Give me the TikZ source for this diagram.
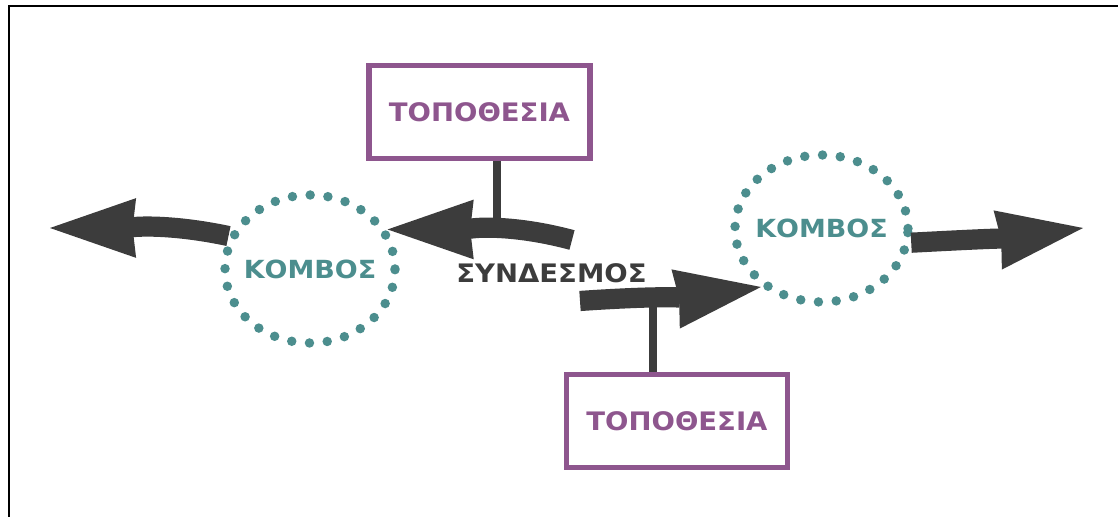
\documentclass[tikz,border=0pt]{standalone}
\usepackage{fontspec}
\setmainfont{DejaVu Sans}[FakeStretch=1.08]
\usepackage{tikz}
\usetikzlibrary{shapes.geometric,arrows.meta}
\definecolor{placepurple}{RGB}{142, 86, 142}
\definecolor{knotteal}{RGB}{76, 142, 142}
\definecolor{linkgray}{RGB}{60, 60, 60}

\tikzset{
  place/.style={draw=placepurple, line width=3.4pt, minimum width=4.42cm, minimum height=1.86cm,
    text=placepurple, font=\bfseries\fontsize{14.5}{16}\selectfont},
  knottext/.style={text=knotteal, font=\bfseries\fontsize{14.2}{16}\selectfont},
  knot/.style={ellipse, draw=knotteal, line width=5.4pt, line cap=round, dash pattern=on 0pt off 10.15pt,
    inner sep=0pt, label={[knottext]center:#1}},
  linkarrow/.style={draw=linkgray, line width=11.5pt,
    -{Stealth[length=49pt, width=34pt, inset=2pt, line width=0pt]}},
  stem/.style={draw=linkgray, line width=4.5pt},
}

\begin{document}
\begin{tikzpicture}
\useasboundingbox (0,0) rectangle (22.36,10.34);
% frame
\draw[line width=1.4pt] (0.18,0) -- (0.18,10.22) -- (22.36,10.22);

% knots
\node[knot=ΚΟΜΒΟΣ, minimum width=3.40cm, minimum height=2.96cm] (kl) at (6.20,4.96) {};
\node[knot=ΚΟΜΒΟΣ, minimum width=3.46cm, minimum height=2.94cm] (kr) at (16.43,5.77) {};

% places
\node[place] (loctop) at (9.59,8.10) {ΤΟΠΟΘΕΣΙΑ};
\node[place] (locbot) at (13.54,1.92) {ΤΟΠΟΘΕΣΙΑ};

% link label
\node[text=linkgray, font=\bfseries\fontsize{14.5}{16}\selectfont] (link) at (11.03,4.87) {ΣΥΝΔΕΣΜΟΣ};

% free ends
\coordinate (tipw) at (1.00,5.78);
\coordinate (tipe) at (21.66,5.78);
\coordinate (taila) at (11.44,5.54);
\coordinate (tailb) at (11.60,4.32);
\coordinate (stema) at (9.94,5.70);
\coordinate (stemb) at (13.06,4.30);

% stems
\draw[stem] (loctop.south -| stema) -- (stema);
\draw[stem] (stemb) -- (locbot.north -| stemb);

% links
\draw[linkarrow] (kl.158) to[out=168, in=0] (tipw);
\draw[linkarrow] (taila) to[out=165, in=0] (kl.27);
\draw[linkarrow] (tailb) to[out=4, in=188] (kr.224);
\draw[linkarrow] (kr.-9) to[out=3, in=188] (tipe);
\end{tikzpicture}
\end{document}
